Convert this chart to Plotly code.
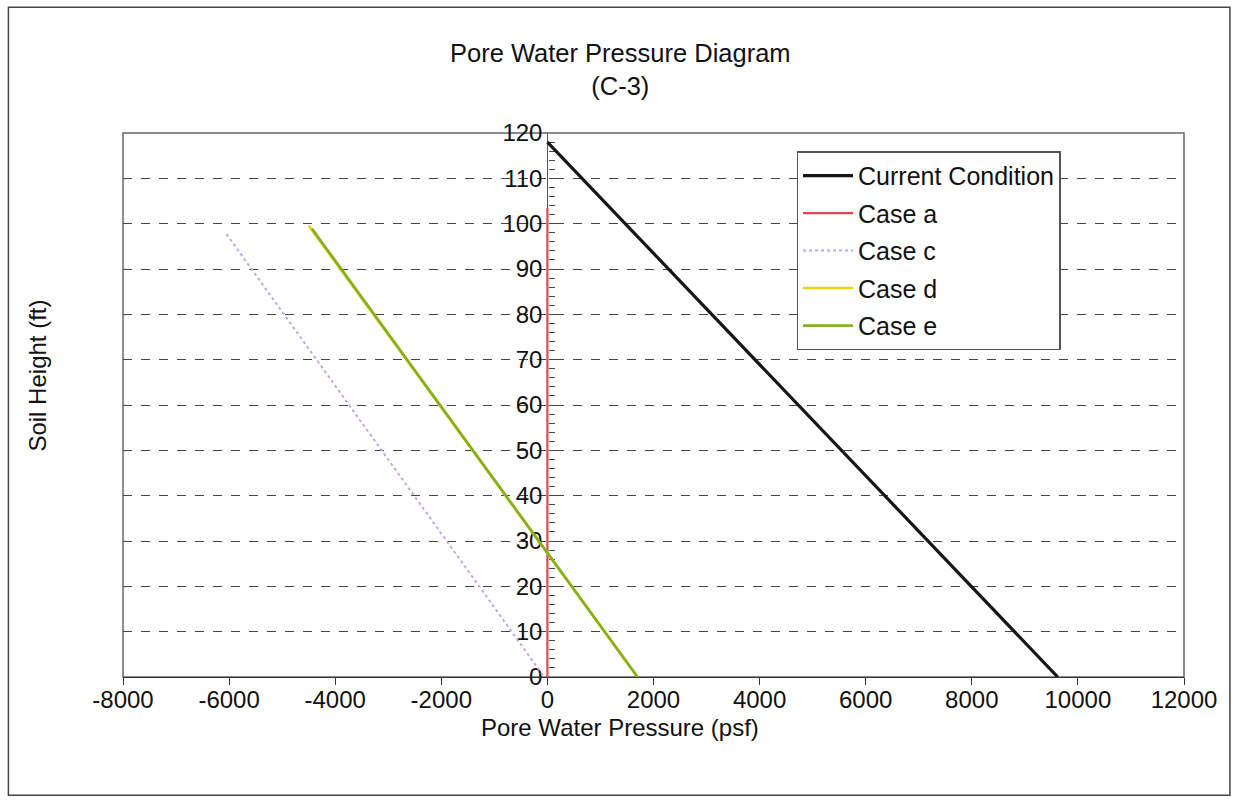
import plotly.graph_objects as go

# ---- data ----
current_x = [0, 9620]
current_y = [118, 0]

case_a_x = [0, 0]
case_a_y = [0, 103.5]

case_c_x = [-6050, -60]
case_c_y = [97.7, 0]

case_d_x = [-4500, 1700]
case_d_y = [99.6, 0]

case_e_x = [-4440, 1700]
case_e_y = [98.9, 0]

x_ticks = [-8000, -6000, -4000, -2000, 0, 2000, 4000, 6000, 8000, 10000, 12000]
x_tick_labels = ["-8000", "-6000", "-4000", "-2000", "0", "2000", "4000",
                 "6000", "8000", "10000", "12000"]
y_ticks = [0, 10, 20, 30, 40, 50, 60, 70, 80, 90, 100, 110, 120]
y_tick_labels = [str(v) for v in y_ticks]

FONT = "Liberation Sans, Arial, sans-serif"

fig = go.Figure()
series = [
    ("Current Condition", current_x, current_y, dict(color="#161616", width=3.2)),
    ("Case a", case_a_x, case_a_y, dict(color="#e2474f", width=2.2)),
    ("Case c", case_c_x, case_c_y, dict(color="#c6a4e4", width=2, dash="dot")),
    ("Case d", case_d_x, case_d_y, dict(color="#f2cf12", width=2.6)),
    ("Case e", case_e_x, case_e_y, dict(color="#84b11c", width=2.8)),
]
for i, (name, xs, ys, line) in enumerate(series):
    fig.add_trace(go.Scatter(x=xs, y=ys, mode="lines", name=name, line=line,
                             legendgroup=f"g{i}"))

fig.update_layout(
    width=1233, height=807,
    margin=dict(l=123, r=49, t=133, b=130),
    paper_bgcolor="white", plot_bgcolor="white",
    font=dict(family=FONT, size=24, color="#111"),
    showlegend=True,
    legend=dict(x=0.635, y=0.966, xanchor="left", yanchor="top",
                bgcolor="white", bordercolor="#555", borderwidth=1.3,
                font=dict(family=FONT, size=25, color="#111"),
                traceorder="grouped", tracegroupgap=2, itemwidth=50),
    xaxis=dict(range=[-8000, 12000], tickmode="array", tickvals=x_ticks,
               ticktext=x_tick_labels, ticks="outside", ticklen=7,
               tickcolor="#333", showline=True, linecolor="#333", linewidth=1.3,
               showgrid=False, zeroline=False, ticklabelstandoff=-6,
               tickfont=dict(family=FONT, size=24, color="#111")),
    yaxis=dict(range=[0, 120], tickmode="array", tickvals=y_ticks,
               ticktext=y_tick_labels, anchor="free", position=0.4,
               ticks="inside", ticklen=7, tickcolor="#444",
               minor=dict(ticks="inside", dtick=2, ticklen=6, tickcolor="#444",
                          showgrid=False),
               showline=True, linecolor="#555", linewidth=1.3,
               showgrid=True, gridcolor="#444", griddash="dash", gridwidth=1,
               zeroline=False, layer="below traces",
               tickfont=dict(family=FONT, size=24, color="#111")),
    annotations=[
        dict(text="Pore Water Pressure Diagram<br>(C-3)", xref="paper", yref="paper",
             x=0.4686, y=1.117, xanchor="center", yanchor="middle", showarrow=False,
             font=dict(family=FONT, size=25.5, color="#111")),
        dict(text="Pore Water Pressure (psf)", xref="paper", yref="paper",
             x=0.4686, y=-0.0925, xanchor="center", yanchor="middle", showarrow=False,
             font=dict(family=FONT, size=24, color="#111")),
        dict(text="Soil Height (ft)", xref="paper", yref="paper", textangle=-90,
             x=-0.0808, y=0.5546, xanchor="center", yanchor="middle", showarrow=False,
             font=dict(family=FONT, size=24, color="#111")),
    ],
    shapes=[
        dict(type="rect", xref="paper", yref="paper", x0=0, x1=1, y0=0, y1=1,
             line=dict(color="#666", width=1.5), layer="below"),
        dict(type="rect", xref="paper", yref="paper", x0=-0.108, x1=1.0433,
             y0=-0.2175, y1=1.231, line=dict(color="#444", width=1.5), layer="below"),
    ],
)

fig.write_html(
    "out.html",
    config={"displayModeBar": False},
    post_script="document.body.style.margin='0';document.body.style.overflow='hidden';",
)
